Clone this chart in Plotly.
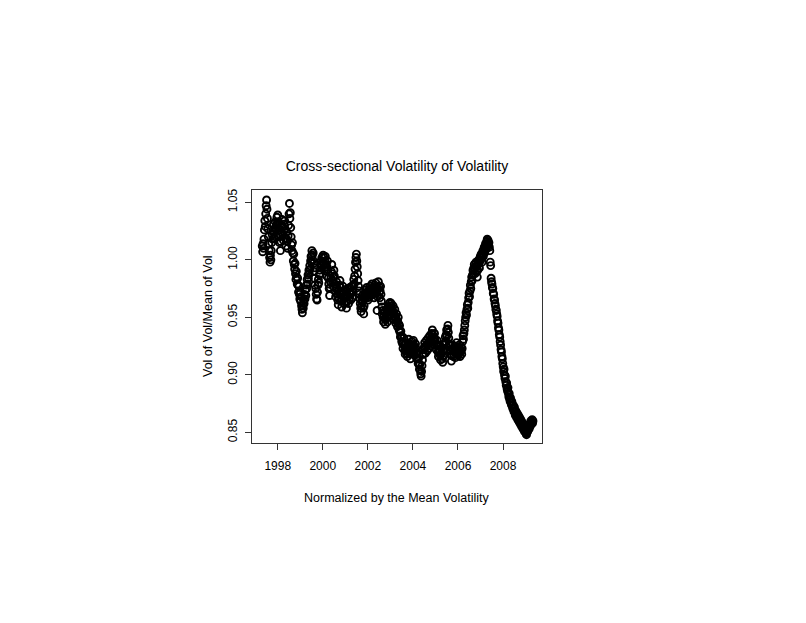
import pandas as pd
import plotly.graph_objects as go

# Weekly values of vol-of-vol / mean-of-vol
vol_1997 = [1.012, 1.007, 1.014, 1.010, 1.018, 1.026, 1.034, 1.029, 1.040, 1.047,
            1.052, 1.044, 1.036, 1.027, 1.020, 1.014, 1.008, 1.002, 0.998, 1.004,
            1.000, 1.008, 1.015, 1.022, 1.018, 1.026, 1.031, 1.024, 1.019, 1.027,
            1.033, 1.028, 1.021, 1.030, 1.037, 1.032]
vol_1998 = [1.039, 1.033, 1.026, 1.020, 1.015, 1.022, 1.008, 1.016, 1.024, 1.030,
            1.035, 1.028, 1.022, 1.017, 1.025, 1.031, 1.034, 1.027, 1.019, 1.012,
            1.018, 1.024, 1.016, 1.010, 1.021, 1.030, 1.040, 1.049, 1.036, 1.041,
            1.028, 1.020, 1.013, 1.008, 1.015, 1.006, 0.999, 1.005, 0.996, 0.992,
            0.997, 0.988, 0.983, 0.990, 0.985, 0.979, 0.984, 0.978, 0.972, 0.977,
            0.970, 0.966]
vol_1999 = [0.972, 0.964, 0.968, 0.960, 0.957, 0.954, 0.961, 0.958, 0.965, 0.962,
            0.970, 0.966, 0.974, 0.969, 0.978, 0.975, 0.983, 0.979, 0.987, 0.984,
            0.991, 0.988, 0.995, 0.992, 0.999, 1.003, 0.998, 1.008, 1.004, 1.000,
            1.006, 0.997, 0.990, 0.984, 0.978, 0.993, 0.975, 0.970, 0.966, 0.965,
            0.972, 0.978, 0.983, 0.980, 0.987, 0.991, 0.988, 0.995, 0.999, 0.996,
            1.002, 0.998]
vol_2000 = [1.004, 0.997, 1.002, 0.993, 0.999, 1.003, 0.996, 0.990, 0.986, 0.994,
            0.999, 0.991, 0.984, 0.979, 0.975, 0.969, 0.976, 0.981, 0.984, 0.990,
            0.996, 0.988, 0.982, 0.977, 0.985, 0.991, 0.986, 0.979, 0.973, 0.968,
            0.975, 0.981, 0.976, 0.970, 0.965, 0.961, 0.967, 0.973, 0.978, 0.982,
            0.976, 0.970, 0.964, 0.959, 0.965, 0.971, 0.977, 0.973, 0.967, 0.962,
            0.968, 0.974]
vol_2001 = [0.969, 0.963, 0.958, 0.964, 0.970, 0.975, 0.968, 0.962, 0.966, 0.972,
            0.976, 0.970, 0.965, 0.971, 0.977, 0.973, 0.967, 0.972, 0.978, 0.983,
            0.979, 0.986, 0.992, 0.998, 1.002, 1.005, 0.999, 0.994, 0.988, 0.982,
            0.977, 0.973, 0.970, 0.966, 0.962, 0.958, 0.955, 0.960, 0.965, 0.969,
            0.964, 0.958, 0.953, 0.960, 0.966, 0.971, 0.968, 0.974, 0.970, 0.976,
            0.972, 0.967]
vol_2002 = [0.965, 0.970, 0.974, 0.968, 0.972, 0.977, 0.973, 0.969, 0.975, 0.979,
            0.974, 0.970, 0.976, 0.972, 0.967, 0.973, 0.978, 0.974, 0.980, 0.976,
            0.971, 0.956, 0.968, 0.975, 0.981, 0.977, 0.972, 0.967, 0.973, 0.977,
            0.970, 0.964, 0.959, 0.953, 0.956, 0.950, 0.946, 0.951, 0.955, 0.949,
            0.944, 0.948, 0.953, 0.957, 0.951, 0.946, 0.950, 0.955, 0.959, 0.962,
            0.958, 0.963]
vol_2003 = [0.960, 0.955, 0.962, 0.957, 0.951, 0.956, 0.960, 0.954, 0.948, 0.953,
            0.957, 0.950, 0.945, 0.949, 0.953, 0.947, 0.942, 0.946, 0.950, 0.944,
            0.939, 0.943, 0.937, 0.933, 0.938, 0.934, 0.929, 0.933, 0.927, 0.923,
            0.928, 0.932, 0.926, 0.921, 0.918, 0.923, 0.928, 0.924, 0.919, 0.916,
            0.921, 0.926, 0.931, 0.927, 0.922, 0.918, 0.914, 0.919, 0.924, 0.929,
            0.925, 0.920]
vol_2004 = [0.925, 0.930, 0.926, 0.921, 0.917, 0.922, 0.927, 0.923, 0.918, 0.914,
            0.919, 0.915, 0.910, 0.914, 0.909, 0.905, 0.909, 0.904, 0.901, 0.899,
            0.903, 0.908, 0.913, 0.918, 0.922, 0.918, 0.924, 0.928, 0.924, 0.919,
            0.925, 0.930, 0.926, 0.921, 0.927, 0.932, 0.928, 0.923, 0.929, 0.934,
            0.930, 0.925, 0.931, 0.936, 0.933, 0.939, 0.935, 0.930, 0.926, 0.932,
            0.936, 0.931]
vol_2005 = [0.927, 0.922, 0.926, 0.930, 0.925, 0.920, 0.916, 0.921, 0.926, 0.922,
            0.917, 0.913, 0.918, 0.923, 0.919, 0.914, 0.911, 0.916, 0.921, 0.926,
            0.922, 0.928, 0.933, 0.929, 0.935, 0.939, 0.934, 0.940, 0.943, 0.937,
            0.932, 0.927, 0.922, 0.926, 0.921, 0.917, 0.912, 0.917, 0.922, 0.926,
            0.921, 0.916, 0.920, 0.925, 0.920, 0.915, 0.919, 0.924, 0.928, 0.923,
            0.918, 0.922]
vol_2006 = [0.917, 0.922, 0.926, 0.921, 0.916, 0.920, 0.925, 0.921, 0.918, 0.923,
            0.929, 0.934, 0.931, 0.936, 0.939, 0.943, 0.947, 0.950, 0.954, 0.952,
            0.957, 0.961, 0.958, 0.963, 0.967, 0.971, 0.968, 0.973, 0.978, 0.975,
            0.981, 0.985, 0.982, 0.987, 0.991, 0.988, 0.993, 0.996, 0.992, 0.988,
            0.994, 0.998, 0.995, 0.990, 0.985, 0.991, 0.996, 1.000, 0.997, 0.993,
            0.999, 1.003]
vol_2007 = [1.000, 1.005, 1.002, 0.998, 1.004, 1.008, 1.003, 1.007, 1.011, 1.006,
            1.010, 1.014, 1.009, 1.013, 1.016, 1.018, 1.014, 1.017, 1.012, 1.015,
            1.011, 1.008, 0.998, 0.995, 0.984, 0.981, 0.979, 0.976, 0.975, 0.971,
            0.970, 0.966, 0.965, 0.962, 0.960, 0.957, 0.956, 0.953, 0.951, 0.947,
            0.945, 0.941, 0.939, 0.935, 0.933, 0.929, 0.926, 0.922, 0.920, 0.916,
            0.914, 0.910]
vol_2008 = [0.907, 0.903, 0.905, 0.900, 0.897, 0.899, 0.894, 0.891, 0.893, 0.888,
            0.886, 0.889, 0.884, 0.881, 0.884, 0.879, 0.877, 0.880, 0.876, 0.874,
            0.877, 0.873, 0.871, 0.874, 0.870, 0.868, 0.872, 0.868, 0.865, 0.869,
            0.866, 0.863, 0.867, 0.864, 0.861, 0.865, 0.862, 0.859, 0.863, 0.860,
            0.857, 0.861, 0.858, 0.855, 0.859, 0.856, 0.853, 0.857, 0.854, 0.851,
            0.855, 0.852]
vol_2009 = [0.851, 0.849, 0.848, 0.850, 0.853, 0.851, 0.854, 0.856, 0.853, 0.857,
            0.855, 0.858, 0.860, 0.857, 0.859, 0.861, 0.858, 0.860]

series_start = {
    "1997-04-25": vol_1997, "1998-01-02": vol_1998, "1999-01-01": vol_1999,
    "2000-01-07": vol_2000, "2001-01-05": vol_2001, "2002-01-04": vol_2002,
    "2003-01-03": vol_2003, "2004-01-02": vol_2004, "2005-01-07": vol_2005,
    "2006-01-06": vol_2006, "2007-01-05": vol_2007, "2008-01-04": vol_2008,
    "2009-01-02": vol_2009,
}

dates, values = [], []
for start, vals in series_start.items():
    dates.extend(pd.date_range(start, periods=len(vals), freq="7D"))
    values.extend(vals)

x_tick_labels = ["1998", "2000", "2002", "2004", "2006", "2008"]
y_tick_vals = [0.85, 0.90, 0.95, 1.00, 1.05]

title_text = "Cross-sectional Volatility of Volatility"
x_title = "Normalized by the Mean Volatility"
y_title = "Vol of Vol/Mean of Vol"

FONT = "Liberation Sans, Arial, Helvetica, sans-serif"

# page body has an 8px margin, so the figure is offset by 8px
L, T, PW, PH = 244, 182, 290, 253.3
W, H = 798, 615

fig = go.Figure()
fig.add_trace(go.Scatter(
    x=dates, y=values, mode="markers",
    marker=dict(symbol="circle-open", size=7, color="black",
                line=dict(color="black", width=1.9)),
    showlegend=False, hoverinfo="skip",
))

fig.update_layout(
    width=W, height=H,
    margin=dict(l=L, r=W - L - PW, t=T, b=H - T - PH, pad=0),
    paper_bgcolor="white", plot_bgcolor="white",
    font=dict(family=FONT, size=12, color="black"),
    title=dict(text=title_text, x=(L + PW / 2) / W, xanchor="center",
               y=1 - (T - 23.5) / H, yanchor="middle",
               font=dict(family=FONT, size=14, color="black")),
    xaxis=dict(
        type="date", range=["1996-11-10", "2009-09-24"],
        tickvals=[f"{y}-01-01" for y in x_tick_labels], ticktext=x_tick_labels,
        ticks="outside", ticklen=6, tickwidth=1, tickcolor="#333",
        showline=True, linecolor="#333", linewidth=1, mirror=True,
        showgrid=False, zeroline=False, ticklabelstandoff=6,
        tickfont=dict(family=FONT, size=12, color="black"),
    ),
    yaxis=dict(
        range=[0.8408, 1.0607], tickvals=y_tick_vals,
        ticktext=[f"{v:.2f}" for v in y_tick_vals], tickangle=-90,
        ticks="outside", ticklen=6, tickwidth=1, tickcolor="#333",
        showline=True, linecolor="#333", linewidth=1, mirror=True,
        showgrid=False, zeroline=False, ticklabelstandoff=3,
        tickfont=dict(family=FONT, size=12, color="black"),
    ),
    annotations=[
        dict(text=x_title, xref="paper", yref="paper", x=0.5, y=-55.0 / PH,
             xanchor="center", yanchor="middle", showarrow=False,
             font=dict(family=FONT, size=12.5, color="black")),
        dict(text=y_title, xref="paper", yref="paper", x=-44.5 / PW, y=0.5,
             xanchor="center", yanchor="middle", textangle=-90, showarrow=False,
             font=dict(family=FONT, size=12.5, color="black")),
    ],
)

fig.write_html("out.html")
